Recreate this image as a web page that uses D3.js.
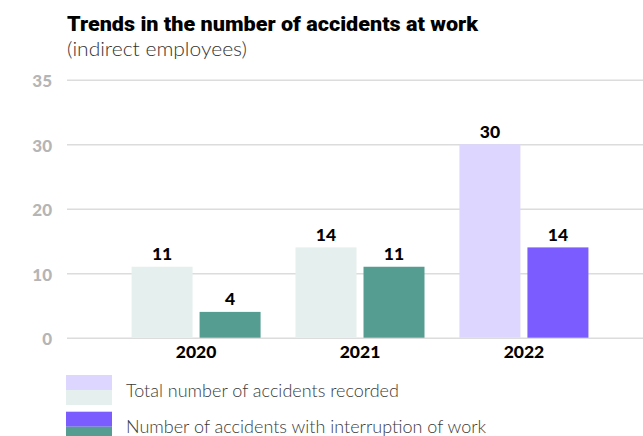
<!DOCTYPE html>
<html>
<head>
<meta charset="utf-8">
<script src="https://cdn.jsdelivr.net/npm/d3@7"></script>
<style>
  html, body { margin: 0; padding: 0; background: #fff; }
  svg { display: block; }
</style>
</head>
<body>
<svg id="chart" width="643" height="436"></svg>
<script>
// ---- data ----
const years = ["2020", "2021", "2022"];
const totalAccidents = [11, 14, 30];
const interruptedAccidents = [4, 11, 14];
const yTickValues = [0, 10, 20, 30, 40];
const yTickLabels = ["0", "10", "20", "30", "35"];
const seriesKeys = ["total", "interrupted"];
const legendLabels = ["Total number of accidents recorded", "Number of accidents with interruption of work"];
const titleText = "Trends in the number of accidents at work";
const subtitleText = "(indirect employees)";

// ---- styles ----
const palette = {
  "2020": { total: "#e5efed", interrupted: "#559c91" },
  "2021": { total: "#e5efed", interrupted: "#559c91" },
  "2022": { total: "#ddd6fe", interrupted: "#7a5cff" }
};
const legendColors = [
  ["#ddd6fe", "#e5efed"],
  ["#7a5cff", "#559c91"]
];

const svg = d3.select("#chart");

const rows = years.map((y, i) => ({ year: y, total: totalAccidents[i], interrupted: interruptedAccidents[i] }));

const x0 = d3.scaleBand().domain(years).range([66, 654]).paddingInner(0.213).paddingOuter(0.4);
const x1 = d3.scaleBand().domain(seriesKeys).range([0, x0.bandwidth()]).paddingInner(0.103);
const y = d3.scaleLinear().domain([0, 40]).range([337.7, 79.7]);

// title
svg.append("text").attr("x", 67).attr("y", 31)
  .attr("font-family", "Roboto, sans-serif").attr("font-weight", 900)
  .attr("font-size", 20).attr("fill", "#000")
  .attr("textLength", 411).attr("lengthAdjust", "spacingAndGlyphs")
  .text(titleText);
svg.append("text").attr("x", 67).attr("y", 56)
  .attr("font-family", "Lato, sans-serif").attr("font-weight", 300)
  .attr("font-size", 20.5).attr("fill", "#333")
  .attr("textLength", 180).attr("lengthAdjust", "spacingAndGlyphs")
  .text(subtitleText);

// grid + y labels
const yAxis = d3.axisLeft(y).tickValues(yTickValues)
  .tickSize(-(643 - 67)).tickPadding(15)
  .tickFormat((d, i) => yTickLabels[i]);
const gy = svg.append("g").attr("transform", "translate(67,0)").call(yAxis);
gy.select(".domain").remove();
gy.selectAll(".tick line").attr("stroke", "#dcdcdc").attr("stroke-width", 1.5);
gy.selectAll(".tick text")
  .attr("font-family", "Lato, sans-serif").attr("font-weight", 900)
  .attr("font-size", 17).attr("fill", "#b5b5b5").attr("dy", "0.4em");

// bars
const groups = svg.append("g").selectAll("g").data(rows).join("g")
  .attr("transform", d => `translate(${x0(d.year)},0)`);
groups.selectAll("rect").data(d => seriesKeys.map(k => ({ year: d.year, key: k, value: d[k] })))
  .join("rect")
  .attr("x", d => x1(d.key)).attr("width", x1.bandwidth())
  .attr("y", d => y(d.value)).attr("height", d => y(0) - y(d.value))
  .attr("fill", d => palette[d.year][d.key]);
groups.selectAll("text.val").data(d => seriesKeys.map(k => ({ year: d.year, key: k, value: d[k] })))
  .join("text").attr("class", "val")
  .attr("x", d => x1(d.key) + x1.bandwidth() / 2).attr("y", d => y(d.value) - 6.5)
  .attr("text-anchor", "middle")
  .attr("font-family", "Lato, sans-serif").attr("font-weight", 900)
  .attr("font-size", 17.5).attr("fill", "#000")
  .text(d => d.value);

// x axis labels
const xAxis = d3.axisBottom(x0).tickSize(0).tickPadding(0);
const gx = svg.append("g").attr("transform", "translate(0,346)").call(xAxis);
gx.select(".domain").remove();
gx.selectAll(".tick text")
  .attr("font-family", "Lato, sans-serif").attr("font-weight", 900)
  .attr("font-size", 17.5).attr("fill", "#000").attr("dy", "0.71em");

// legend
const legend = svg.append("g").selectAll("g").data(legendLabels).join("g")
  .attr("transform", (d, i) => `translate(66,${375 + i * 36.7})`);
legend.append("rect").attr("width", 46).attr("height", 15).attr("fill", (d, i) => legendColors[i][0]);
legend.append("rect").attr("y", 15).attr("width", 46).attr("height", 15).attr("fill", (d, i) => legendColors[i][1]);
legend.append("text").attr("x", 60).attr("y", 21.7)
  .attr("font-family", "Lato, sans-serif").attr("font-weight", 300)
  .attr("font-size", 18).attr("fill", "#3a3a3a")
  .text(d => d);
</script>
</body>
</html>
